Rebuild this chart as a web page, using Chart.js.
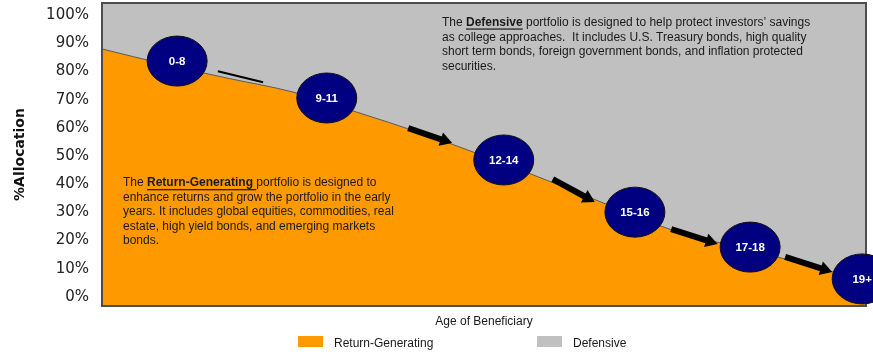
<!DOCTYPE html>
<html lang="en">
<head>
  <meta charset="UTF-8" />
  <title>Glide path allocation</title>
  <script src="https://cdn.jsdelivr.net/npm/chart.js"></script>
  <style>
    html, body { margin: 0; padding: 0; background: #fff; }
    .chart-box { position: relative; width: 873px; height: 354px; }
  </style>
</head>
<body>
  <div class="chart-box"><canvas id="glide" width="873" height="354"></canvas></div>

  <script>
    // glide path, sampled at even steps along the beneficiary's age
    const pathSteps = [0, 1, 2, 3, 4, 5, 6, 7, 8, 9, 10, 11, 12];
    const returnGenerating = [88, 82.5, 77.5, 72.7, 65.6, 58.2, 50.0, 41.3, 32.2, 23.4, 17.6, 11.9, 5.5];
    const defensive = returnGenerating.map(v => 100 - v);
    const yTicks = [0, 10, 20, 30, 40, 50, 60, 70, 80, 90, 100];

    // age bands marked along the path (step, % allocation)
    const ageBands = ['0-8', '9-11', '12-14', '15-16', '17-18', '19+'];
    const bandStep = [1.18, 3.53, 6.31, 8.37, 10.18, 11.94];
    const bandAlloc = [83.7, 70.6, 48.6, 30.1, 17.7, 6.4];

    // arrows between the bands (step, %)
    const arrowFrom = [[1.82, 80.1], [4.81, 59.9], [7.08, 41.8], [8.94, 24.1], [10.73, 14.2]];
    const arrowTo = [[2.53, 76.2], [5.50, 54.6], [7.74, 33.7], [9.67, 18.8], [11.47, 8.9]];

    const defensiveNote = [
      [['The ', ''], ['Defensive', 'bu'], [' portfolio is designed to help protect investors\u2019 savings', '']],
      [['as college approaches.  It includes U.S. Treasury bonds, high quality', '']],
      [['short term bonds, foreign government bonds, and inflation protected', '']],
      [['securities.', '']]
    ];
    const returnNote = [
      [['The ', ''], ['Return-Generating ', 'bu'], ['portfolio is designed to', '']],
      [['enhance returns and grow the portfolio in the early', '']],
      [['years. It includes global equities, commodities, real', '']],
      [['estate, high yield bonds, and emerging markets', '']],
      [['bonds.', '']]
    ];

    const ORANGE = '#FF9900';
    const GREY = '#C0C0C0';
    const TEXT_FONT = '"Liberation Sans", Arial, sans-serif';

    function drawNote(ctx, lines, x, y, lineH) {
      ctx.textBaseline = 'middle';
      ctx.textAlign = 'left';
      ctx.fillStyle = '#1a1a1a';
      lines.forEach((parts, i) => {
        let cx = x;
        const cy = y + i * lineH;
        parts.forEach(([txt, style]) => {
          ctx.font = (style ? 'bold ' : '') + '12px ' + TEXT_FONT;
          ctx.fillText(txt, cx, cy);
          const w = ctx.measureText(txt).width;
          if (style) ctx.fillRect(cx, cy + 6, w, 1.2);
          cx += w;
        });
      });
    }

    function drawArrow(ctx, x1, y1, x2, y2, withHead) {
      const len = Math.hypot(x2 - x1, y2 - y1);
      ctx.save();
      ctx.translate(x1, y1);
      ctx.rotate(Math.atan2(y2 - y1, x2 - x1));
      ctx.fillStyle = '#000';
      if (withHead) {
        const headLen = 12, headHalf = 7, w = 6;
        ctx.fillRect(0, -w / 2, len - headLen + 1, w);
        ctx.beginPath();
        ctx.moveTo(len, 0);
        ctx.lineTo(len - headLen, -headHalf);
        ctx.lineTo(len - headLen, headHalf);
        ctx.closePath();
        ctx.fill();
      } else {
        ctx.fillRect(0, -1, len, 2);
      }
      ctx.restore();
    }

    const glideDecor = {
      id: 'glideDecor',
      beforeDraw(chart) {
        const a = chart.chartArea, ctx = chart.ctx;
        ctx.save();
        ctx.fillStyle = GREY;
        ctx.fillRect(a.left, a.top, a.right - a.left, a.bottom - a.top);
        ctx.restore();
      },
      afterDatasetsDraw(chart) {
        const a = chart.chartArea, ctx = chart.ctx;
        ctx.save();
        ctx.strokeStyle = '#4d4d4d';
        ctx.lineWidth = 2;
        ctx.strokeRect(a.left, a.top, a.right - a.left, a.bottom - a.top);
        ctx.restore();
      },
      afterDraw(chart) {
        const ctx = chart.ctx;
        const xs = chart.scales.x, ys = chart.scales.y;
        const px = v => xs.getPixelForValue(v);
        const py = v => ys.getPixelForValue(v);
        ctx.save();

        drawNote(ctx, defensiveNote, px(5.34), py(97.4), 14.8);
        drawNote(ctx, returnNote, px(0.33), py(40.4), 14.5);

        arrowFrom.forEach((f, i) => {
          drawArrow(ctx, px(f[0]), py(f[1]), px(arrowTo[i][0]), py(arrowTo[i][1]), i > 0);
        });

        ageBands.forEach((lbl, i) => {
          const cx = px(bandStep[i]), cy = py(bandAlloc[i]);
          ctx.beginPath();
          ctx.ellipse(cx, cy, 30, 25, 0, 0, Math.PI * 2);
          ctx.fillStyle = '#000080';
          ctx.fill();
          ctx.lineWidth = 1;
          ctx.strokeStyle = '#111';
          ctx.stroke();
          ctx.fillStyle = '#fff';
          ctx.font = 'bold 11.5px ' + TEXT_FONT;
          ctx.textAlign = 'center';
          ctx.textBaseline = 'middle';
          ctx.fillText(lbl, cx, cy + 1);
        });

        // legend below the axis title
        const legendX = [298, 537];
        ctx.font = '12px ' + TEXT_FONT;
        ctx.textAlign = 'left';
        ctx.textBaseline = 'middle';
        chart.data.datasets.forEach((ds, i) => {
          ctx.fillStyle = ds.backgroundColor;
          ctx.fillRect(legendX[i], 336, 25, 11);
          ctx.fillStyle = '#1a1a1a';
          ctx.fillText(ds.label, legendX[i] + 36, 343.5);
        });
        ctx.restore();
      }
    };

    new Chart(document.getElementById('glide'), {
      type: 'line',
      data: {
        datasets: [
          {
            label: 'Return-Generating',
            data: pathSteps.map((s, i) => ({ x: s, y: returnGenerating[i] })),
            backgroundColor: ORANGE,
            borderColor: '#5a5a5a',
            borderWidth: 1,
            fill: 'start',
            pointRadius: 0,
            cubicInterpolationMode: 'monotone'
          },
          {
            label: 'Defensive',
            data: pathSteps.map((s, i) => ({ x: s, y: defensive[i] })),
            backgroundColor: GREY,
            borderWidth: 0,
            fill: '-1',
            pointRadius: 0,
            cubicInterpolationMode: 'monotone'
          }
        ]
      },
      options: {
        responsive: false,
        animation: false,
        devicePixelRatio: 1,
        layout: { padding: { top: 3, right: 7, bottom: 0, left: 0 } },
        scales: {
          x: {
            type: 'linear',
            min: 0,
            max: 12,
            grid: { display: false },
            border: { display: false },
            ticks: { display: false },
            title: {
              display: true,
              text: 'Age of Beneficiary',
              color: '#1a1a1a',
              font: { family: TEXT_FONT, size: 12 },
              padding: { top: 0, bottom: 24.8 }
            },
            afterFit: s => {
              s.height = 48;
              s.paddingLeft = 0;
              s.paddingRight = 0;
            }
          },
          y: {
            type: 'linear',
            stacked: true,
            min: -3.2,
            max: 104.3,
            afterBuildTicks: s => { s.ticks = yTicks.map(v => ({ value: v })); },
            grid: { display: false, drawTicks: false },
            border: { display: false },
            ticks: {
              callback: v => v + '%',
              color: '#222',
              padding: 13,
              font: { family: '"DejaVu Sans", sans-serif', size: 15 }
            },
            title: {
              display: true,
              text: '%Allocation',
              color: '#111',
              font: { family: '"DejaVu Sans", sans-serif', size: 14, weight: 'bold' },
              padding: { top: 11.6, bottom: 0 }
            },
            afterFit: s => {
              s.width = 102;
              s.paddingTop = 0;
              s.paddingBottom = 0;
            }
          }
        },
        plugins: {
          legend: { display: false },
          tooltip: { enabled: false }
        }
      },
      plugins: [glideDecor]
    });
  </script>
</body>
</html>
